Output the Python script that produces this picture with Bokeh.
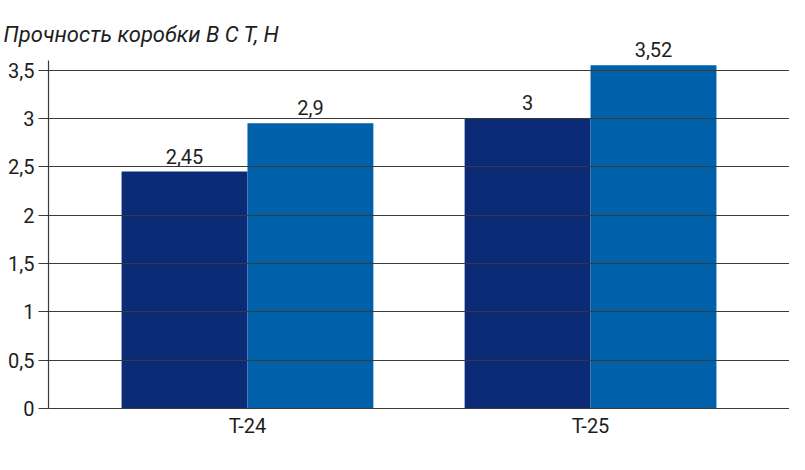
from bokeh.plotting import figure
from bokeh.models import FactorRange, Range1d, ColumnDataSource, CustomJSTickFormatter, FixedTicker, LabelSet
from bokeh.transform import dodge
from bokeh.core.properties import value
from bokeh.embed import file_html
from bokeh.resources import INLINE

categories = ["T-24", "T-25"]
series_a = [2.45, 3.0]
series_b = [2.95, 3.55]
labels_a = ["2,45", "3"]
labels_b = ["2,9", "3,52"]
y_ticks = [0, 0.5, 1, 1.5, 2, 2.5, 3, 3.5]
axis_top = 3.6
title_text = "Прочность коробки В С Т, Н"

FONT = "Roboto"
DARK = "#0b2b77"
BLUE = "#0060aa"
LINE = "#3a3a3a"
TXT = "#1e1e1e"

src = ColumnDataSource(dict(cat=categories, a=series_a, b=series_b, la=labels_a, lb=labels_b))

p = figure(width=789, height=454, output_backend="svg", toolbar_location=None,
           x_range=FactorRange(factors=categories, range_padding=0.08,
                               range_padding_units="absolute"),
           y_range=Range1d(0, 3.806), title=title_text)
p.min_border_left = 48
p.min_border_right = 0
p.min_border_bottom = 46
p.min_border_top = 40
p.outline_line_color = None
p.background_fill_color = "white"
p.border_fill_color = "white"

p.title.text_font = FONT
p.title.text_font_style = "italic"
p.title.text_font_size = "22px"
p.title.text_color = TXT
p.title.align = "left"
p.title.offset = -45
p.title.standoff = -13

bw = 0.367
p.vbar(x=dodge("cat", -bw / 2, range=p.x_range), top="a", width=bw, source=src,
       fill_color=DARK, line_color=None)
p.vbar(x=dodge("cat", bw / 2, range=p.x_range), top="b", width=bw, source=src,
       fill_color=BLUE, line_color=None)

for ycol, tcol, off in (("a", "la", -bw / 2), ("b", "lb", bw / 2)):
    p.add_layout(LabelSet(x=dodge("cat", off, range=p.x_range), y=ycol, text=tcol, source=src,
                          text_align="center", text_baseline="alphabetic", y_offset=8,
                          text_font_size="20px", text_color=TXT, text_font=value(FONT)))

p.xgrid.visible = False
p.ygrid.ticker = FixedTicker(ticks=y_ticks)
p.ygrid.grid_line_color = LINE
p.ygrid.grid_line_width = 1.2
p.ygrid.level = "overlay"

yax = p.yaxis[0]
yax.ticker = FixedTicker(ticks=y_ticks)
yax.bounds = (0, axis_top)
yax.formatter = CustomJSTickFormatter(code="return tick.toString().replace('.', ',');")
yax.major_tick_out = 10
yax.major_tick_in = 0
yax.minor_tick_out = 0
yax.minor_tick_in = 0
yax.major_tick_line_color = LINE
yax.major_tick_line_width = 1.2
yax.axis_line_color = LINE
yax.axis_line_width = 1.2
yax.major_label_standoff = 4
yax.major_label_text_font = FONT
yax.major_label_text_font_size = "20px"
yax.major_label_text_color = TXT

xax = p.xaxis[0]
xax.major_tick_out = 0
xax.major_tick_in = 0
xax.axis_line_color = LINE
xax.axis_line_width = 1.2
xax.major_label_standoff = 5
xax.major_label_text_font = FONT
xax.major_label_text_font_size = "20px"
xax.major_label_text_color = TXT

open("out.html", "w").write(file_html(p, INLINE))
